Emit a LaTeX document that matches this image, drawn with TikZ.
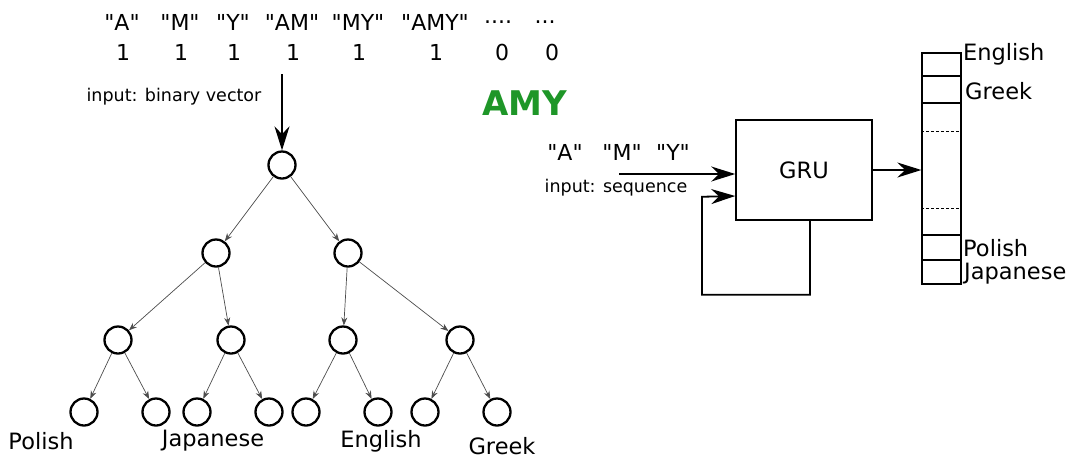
\documentclass[tikz,border=0pt]{standalone}
\usepackage{fontspec}
\setmainfont{DejaVu Sans}
\newfontfamily\plainsans{DejaVu Sans}
\usetikzlibrary{arrows.meta}
\definecolor{amygreen}{RGB}{30,150,40}
\tikzset{
    unit/.style={circle, draw, line width=2.3pt, minimum size=27pt, inner sep=0pt},
    edge/.style={draw=black!70, line width=0.7pt, -{Stealth[length=8pt,width=6pt]}},
    bigarrow/.style={line width=1.8pt, -{Stealth[length=24pt,width=15pt]}},
    lbl/.style={font=\fontsize{22.5}{26}\selectfont, inner sep=0pt},
    tok/.style={font=\plainsans\fontsize{22}{26}\selectfont, inner sep=0pt},
    small/.style={font=\fontsize{17.5}{20}\selectfont, inner sep=0pt}
}
\begin{document}
\begin{tikzpicture}[x=1pt, y=-1pt]
        \useasboundingbox (0,0) rectangle (1068,459);

        % binary vector input
        \foreach \x/\t in {122/A, 180/M, 233/Y, 292/AM, 358/MY, 435/AMY} {
            \node[tok] (t\x) at (\x,22) {"\t"};
            \node[tok] (b\x) at (\x+1,52) {1};
        }
        \node[tok] (t498) at (498,22) {....};
        \node[tok] (b498) at (502,52) {0};
        \node[tok] (t545) at (545,22) {...};
        \node[tok] (b545) at (552,52) {0};
        \node[small] (binin) at (174,97) {input: binary vector};
        \coordinate (vin) at (282,74);

        % tree
        \node[unit] (n1) at (282,165) {};
        \node[unit] (n2) at (216,253) {};
        \node[unit] (n3) at (348,253) {};
        \node[unit] (n4) at (118,340) {};
        \node[unit] (n5) at (231,340) {};
        \node[unit] (n6) at (343,340) {};
        \node[unit] (n7) at (460,340) {};
        \node[unit] (n8) at (84,412) {};
        \node[unit] (n9) at (156,412) {};
        \node[unit] (n10) at (197,412) {};
        \node[unit] (n11) at (269,412) {};
        \node[unit] (n12) at (306,412) {};
        \node[unit] (n13) at (378,412) {};
        \node[unit] (n14) at (425,412) {};
        \node[unit] (n15) at (497,412) {};

        \draw[bigarrow] (vin) -- (n1);
        \foreach \p/\c in {1/2, 1/3, 2/4, 2/5, 3/6, 3/7, 4/8, 4/9,
                           5/10, 5/11, 6/12, 6/13, 7/14, 7/15}
            \draw[edge] (n\p) -- (n\c);

        \node[lbl] (polish) at (41,441) {Polish};
        \node[lbl] (japanese) at (213,441) {Japanese};
        \node[lbl] (english) at (381,441) {English};
        \node[lbl] (greek) at (502,446) {Greek};

        \node[font=\fontsize{34}{40}\selectfont\bfseries, text=amygreen, inner sep=0pt] (amy) at (525,103) {AMY};

        % sequence input
        \node[tok] (sa) at (565,152) {"A"};
        \node[tok] (sm) at (622,152) {"M"};
        \node[tok] (sy) at (673,152) {"Y"};
        \node[small] (seqin) at (616,188) {input: sequence};
        \coordinate (seq) at (619,174);

        \node[draw, line width=1.5pt, minimum width=136pt, minimum height=100pt,
              font=\fontsize{22.5}{26}\selectfont] (gru) at (804,170) {GRU};

        \draw[bigarrow] (seq) -- (seq -| gru.west);
        \draw[bigarrow] ([xshift=6pt]gru.south) -- ++(0,74) -| ++(-108,-98)
            -- ([yshift=-26pt]gru.west);

        % output vector
        \node[draw, line width=1.3pt, minimum width=39pt, minimum height=231pt, inner sep=0pt] (vec) at (941.5,168.5) {};
        \foreach \y in {76,103,235,260}
            \draw[line width=1.3pt] (vec.west |- 0,\y) -- (vec.east |- 0,\y);
        \foreach \y in {131,208}
            \draw[line width=1pt, densely dashed] (vec.west |- 0,\y) -- (vec.east |- 0,\y);
        \draw[bigarrow] (gru.east) -- (gru.east -| vec.west);

        \node[lbl, anchor=west] (oenglish) at (963,54) {English};
        \node[lbl, anchor=west] (ogreek) at (965,91) {Greek};
        \node[lbl, anchor=west] (opolish) at (963,248) {Polish};
        \node[lbl, anchor=west] (ojapanese) at (964,274) {Japanese};

    \end{tikzpicture}
\end{document}
